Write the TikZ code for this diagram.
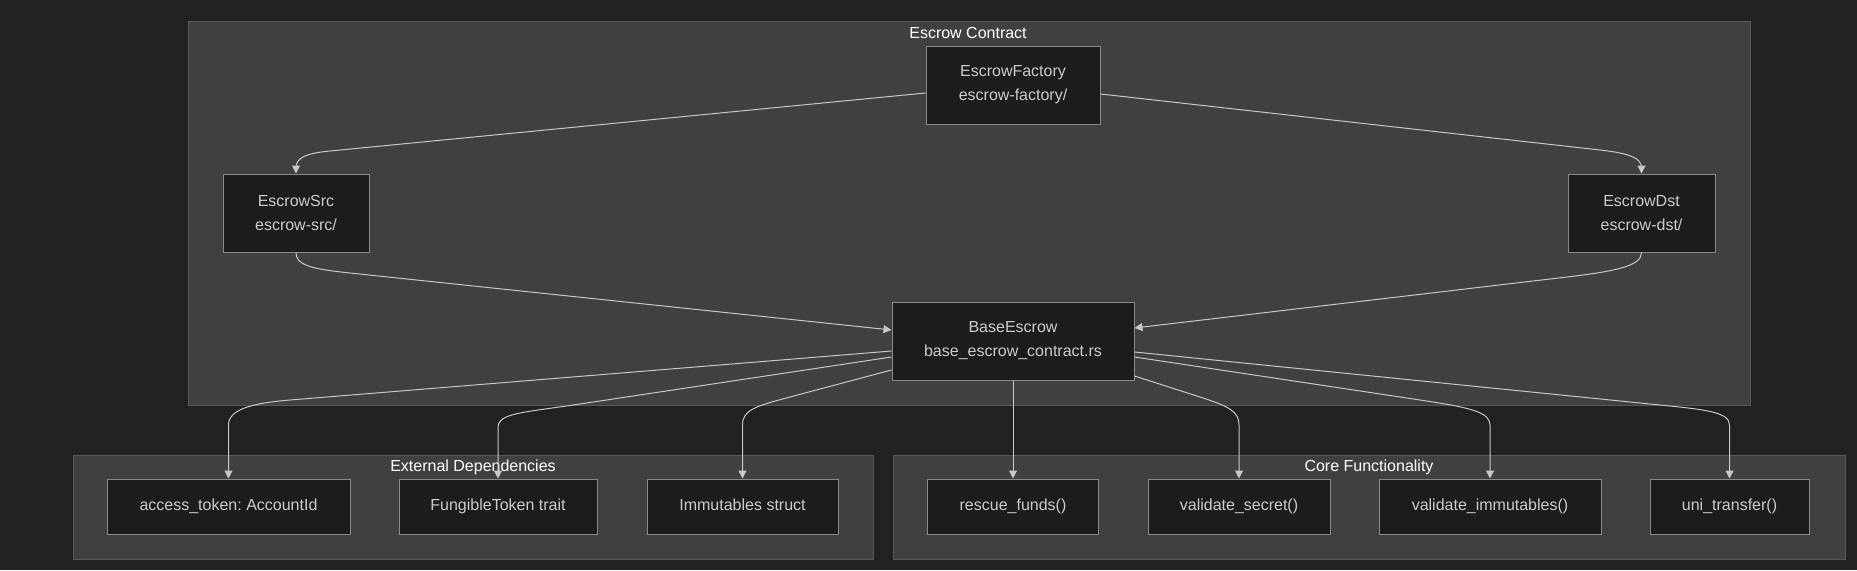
\documentclass[tikz,border=0pt]{standalone}
\usepackage{fontspec}
\setmainfont{Liberation Sans}
\usetikzlibrary{arrows.meta,calc}
\definecolor{bg}{HTML}{212121}
\definecolor{clfill}{HTML}{3F403F}
\definecolor{cldraw}{HTML}{585858}
\definecolor{nfill}{HTML}{1C1C1C}
\definecolor{ndraw}{HTML}{8A8A8A}
\definecolor{ntext}{HTML}{CCCCCC}
\definecolor{edgec}{HTML}{C8C8C8}
\frenchspacing
\begin{document}
\begin{tikzpicture}[x=1pt,y=-1pt,
  box/.style={draw=ndraw, fill=nfill, line width=1pt, text=ntext, inner sep=0pt,
    align=center, font=\fontsize{16}{24}\selectfont},
  lbox/.style={box, minimum height=55, text height=12, text depth=4},
  cluster/.style={draw=cldraw, fill=clfill, line width=1pt},
  ctitle/.style={text=white, font=\fontsize{16}{19}\selectfont, inner sep=0pt},
  edge/.style={draw=edgec, line width=1pt, -{Triangle[length=8pt,width=8pt]}}
]
\fill[bg] (0,0) rectangle (1857,570);
\useasboundingbox (0,0) rectangle (1857,570);

% clusters
\draw[cluster] (188,21) rectangle (1750,405);
\draw[cluster] (73,455) rectangle (873,559);
\draw[cluster] (893,455) rectangle (1845,559);
\node[ctitle] (tEsc) at (968,33) {Escrow Contract};
\node[ctitle] (tExt) at (473,467) {External Dependencies};
\node[ctitle] (tCore) at (1369,467) {Core Functionality};

% top nodes
\node[box, minimum width=174, minimum height=78] (fac) at (1013,85) {EscrowFactory\\escrow-factory/};
\node[box, minimum width=146, minimum height=78] (src) at (296,213) {EscrowSrc\\escrow-src/};
\node[box, minimum width=147, minimum height=78] (dst) at (1641.5,213) {EscrowDst\\escrow-dst/};
\node[box, minimum width=242, minimum height=78] (base) at (1013,341) {BaseEscrow\\base\_escrow\_contract.rs};

% bottom nodes
\node[lbox, minimum width=243] (acc) at (228.5,506.5) {access\_token: AccountId};
\node[lbox, minimum width=198] (fun) at (498,506.5) {FungibleToken trait};
\node[lbox, minimum width=191] (imm) at (742.5,506.5) {Immutables struct};
\node[lbox, minimum width=171] (res) at (1013,506.5) {rescue\_funds()};
\node[lbox, minimum width=182] (vs) at (1239,506.5) {validate\_secret()};
\node[lbox, minimum width=222] (vi) at (1490,506.5) {validate\_immutables()};
\node[lbox, minimum width=159] (uni) at (1729.5,506.5) {uni\_transfer()};

% edges
\draw[edge] ($(fac.west)+(0,8)$) -- (330,151) .. controls (305,153.4) and (296,158) .. (296,168) -- (src.north);
\draw[edge] ($(fac.east)+(0,9)$) -- (1600,150) .. controls (1630,153.4) and (1641.5,158) .. (1641.5,168) -- (dst.north);
\draw[edge] (src.south) .. controls (296,265) and (310,268.8) .. (350,273) -- ($(base.west)+(0,-11)$);
\draw[edge] (dst.south) .. controls (1641.5,265) and (1620,270.8) .. (1567,277) -- ($(base.east)+(0,-13)$);

\draw[edge] ($(base.west)+(0,10)$) -- (290,400) .. controls (250,403.3) and (228.5,410) .. (228.5,425) -- (acc.north);
\draw[edge] ($(base.west)+(0,16)$) -- (580,404) .. controls (520,413) and (498,413) .. (498,428) -- (fun.north);
\draw[edge] ($(base.west)+(0,29)$) -- (790,397) .. controls (755,406.3) and (742.5,410) .. (742.5,425) -- (imm.north);
\draw[edge] (base.south) -- (res.north);
\draw[edge] ($(base.east)+(0,35)$) -- (1200,397) .. controls (1230,406.5) and (1239,412) .. (1239,425) -- (vs.north);
\draw[edge] ($(base.east)+(0,16)$) -- (1420,400) .. controls (1470,407.5) and (1490,412) .. (1490,425) -- (vi.north);
\draw[edge] ($(base.east)+(0,11)$) -- (1660,405) .. controls (1705,409.5) and (1729.5,412) .. (1729.5,425) -- (uni.north);
\end{tikzpicture}
\end{document}
